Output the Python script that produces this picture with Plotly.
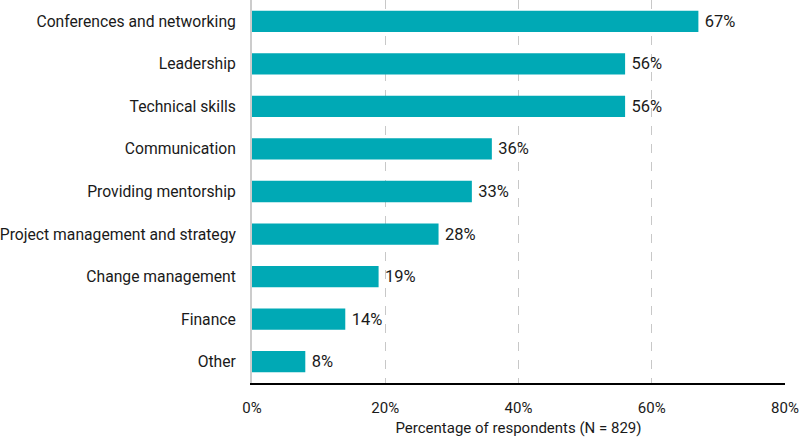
import plotly.graph_objects as go

categories = ["Conferences and networking", "Leadership", "Technical skills", "Communication",
              "Providing mentorship", "Project management and strategy", "Change management",
              "Finance", "Other"]
values = [67, 56, 56, 36, 33, 28, 19, 14, 8]
tick_vals = [0, 20, 40, 60, 80]
tick_text = ["0%", "20%", "40%", "60%", "80%"]

fig = go.Figure(go.Bar(
    y=categories, x=values, orientation="h",
    marker=dict(color="#00a9b5", line=dict(width=0)),
    width=0.5,
    text=[f"\u2009{v}%" for v in values], textposition="outside",
    textfont=dict(size=16.5, color="#1a1a1a"), cliponaxis=False,
    hoverinfo="skip",
))
fig.update_layout(
    width=800, height=438,
    margin=dict(l=252, r=15, t=0, b=55, autoexpand=False),
    paper_bgcolor="white", plot_bgcolor="white",
    font=dict(family="Roboto", size=15, color="#1a1a1a"),
    showlegend=False,
    xaxis=dict(range=[0, 80], tickvals=tick_vals, ticktext=tick_text, automargin=False,
               showgrid=True, gridcolor="#c8c8c8", griddash="dash", gridwidth=1,
               showline=True, linecolor="black", linewidth=2, zeroline=False,
               ticks="", ticklabelstandoff=10,
               title=dict(text="Percentage of respondents (N = 829)", standoff=6, font=dict(size=15)),
               tickfont=dict(size=15)),
    yaxis=dict(autorange="reversed", showline=True, linecolor="#cccccc", linewidth=2, automargin=False,
               ticks="", ticklabelstandoff=11, tickfont=dict(size=15.7), showgrid=False),
)
fig.write_html("out.html", config={"displayModeBar": False, "staticPlot": True},
               post_script="document.body.style.margin='0';document.body.style.overflow='hidden';")
